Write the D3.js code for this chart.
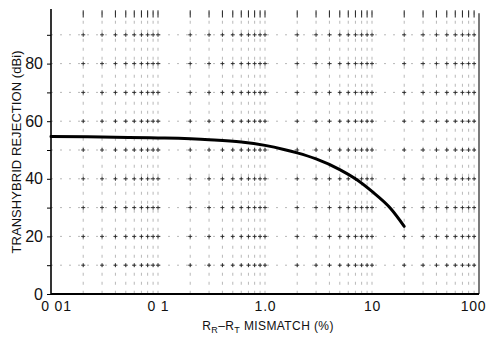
<!DOCTYPE html>
<html>
<head>
<meta charset="utf-8">
<script src="https://cdn.jsdelivr.net/npm/d3@7"></script>
<style>
  body { margin: 0; background: #fff; }
  svg { display: block; }
  .axis path, .axis line { stroke: #000; }
  .axis text, .title { font-family: "Liberation Sans", Arial, sans-serif; fill: #111; }
</style>
</head>
<body>
<div id="chart"></div>
<script>
// curve: mismatch (%) -> rejection (dB)
const mismatch = [0.01, 0.03, 0.1, 0.3, 0.6, 1.0, 1.5, 2.0, 3.0, 5.0, 7.0, 10, 15, 20];
const rejection = [54.7, 54.5, 54.2, 53.6, 52.8, 51.6, 50.2, 49.0, 46.9, 43.2, 40.0, 35.6, 29.6, 23.5];

const xTicks = [0.01, 0.1, 1, 10, 100];
const xTickLabels = ['0 01', '0 1', '1.0', '10', '100'];
const yTicks = [0, 20, 40, 60, 80];
const yGrid = [10, 20, 30, 40, 50, 60, 70, 80, 90];

const width = 491, height = 341;
const margin = {left: 51, right: 12, top: 6, bottom: 47};

const svg = d3.select('#chart').append('svg')
    .attr('width', width)
    .attr('height', height);

const x = d3.scaleLog().domain([0.01, 100]).range([margin.left, width - margin.right]);
const y = d3.scaleLinear().domain([0, 100]).range([height - margin.bottom, margin.top]);

// log grid lines 1..9 per decade
const xGrid = [];
[0.01, 0.1, 1, 10].forEach(d => {
    for (let k = 1; k <= 9; k++) xGrid.push(d * k);
});
const inner = xGrid.filter(d => d > 0.01 && d < 100);

const grid = svg.append('g').attr('class', 'grid');

grid.selectAll('line.v')
    .data(inner)
    .enter().append('line')
    .attr('class', 'v')
    .attr('x1', d => x(d)).attr('x2', d => x(d))
    .attr('y1', y(98)).attr('y2', y(0))
    .attr('stroke', '#999')
    .attr('stroke-width', 0.7)
    .attr('stroke-dasharray', '3,6');

grid.selectAll('line.h')
    .data(yGrid)
    .enter().append('line')
    .attr('class', 'h')
    .attr('x1', x(0.01)).attr('x2', x(100))
    .attr('y1', d => y(d)).attr('y2', d => y(d))
    .attr('stroke', '#999')
    .attr('stroke-width', 0.7)
    .attr('stroke-dasharray', '2,7');

// little crosses where the grid lines meet
const crossings = [];
inner.forEach(a => yGrid.forEach(b => crossings.push([a, b])));

grid.selectAll('path.cross')
    .data(crossings)
    .enter().append('path')
    .attr('class', 'cross')
    .attr('d', d => `M${x(d[0]) - 2},${y(d[1])}h4M${x(d[0])},${y(d[1]) - 2}v4`)
    .attr('stroke', '#222')
    .attr('stroke-width', 0.9);

// top ticks of the verticals
grid.selectAll('line.top')
    .data(inner)
    .enter().append('line')
    .attr('class', 'top')
    .attr('x1', d => x(d)).attr('x2', d => x(d))
    .attr('y1', y(98.5)).attr('y2', y(96))
    .attr('stroke', '#222')
    .attr('stroke-width', 1);

// right border near 100
svg.append('line')
    .attr('x1', x(100)).attr('x2', x(100))
    .attr('y1', y(97.5)).attr('y2', y(0))
    .attr('stroke', '#222')
    .attr('stroke-width', 1.2);

// axes
const yAxis = svg.append('g')
    .attr('class', 'axis')
    .attr('transform', `translate(${margin.left},0)`)
    .call(d3.axisLeft(y).tickValues(yGrid.concat([0])).tickSize(4)
        .tickFormat(d => yTicks.includes(d) ? d : ''));
yAxis.select('.domain')
    .attr('d', `M0,${y(99)}V${y(0)}`)
    .attr('stroke-width', 1.6);
yAxis.selectAll('text').attr('font-size', 16).attr('dx', '-1');

const xAxis = svg.append('g')
    .attr('class', 'axis')
    .attr('transform', `translate(0,${y(0)})`)
    .call(d3.axisBottom(x).tickValues(xTicks).tickSize(0)
        .tickFormat((d, i) => xTickLabels[i]));
xAxis.select('.domain')
    .attr('d', `M${x(0.01)},0H${x(100)}`)
    .attr('stroke-width', 2);
xAxis.selectAll('text').attr('font-size', 14).attr('dy', '1.0em').attr('letter-spacing', 0.8);
xAxis.selectAll('.tick text').filter((d, i) => i === 0).attr('dx', '5');
xAxis.selectAll('.tick text').filter((d, i) => i === 4).attr('dx', '-6');

// curve
const line = d3.line()
    .x((d, i) => x(mismatch[i]))
    .y(d => y(d))
    .curve(d3.curveMonotoneX);

svg.append('path')
    .datum(rejection)
    .attr('fill', 'none')
    .attr('stroke', '#000')
    .attr('stroke-width', 3)
    .attr('stroke-linecap', 'round')
    .attr('d', line);

// titles
const xt = svg.append('text')
    .attr('class', 'title')
    .attr('x', 268)
    .attr('y', 330)
    .attr('text-anchor', 'middle')
    .attr('font-size', 12)
    .attr('letter-spacing', 0.4);
xt.append('tspan').text('R');
xt.append('tspan').text('R').attr('font-size', 9).attr('dy', 3);
xt.append('tspan').text('–R').attr('dy', -3);
xt.append('tspan').text('T').attr('font-size', 9).attr('dy', 3);
xt.append('tspan').text(' MISMATCH (%)').attr('dy', -3);

svg.append('text')
    .attr('class', 'title')
    .attr('transform', `translate(21,${(y(0) + y(100)) / 2 + 2}) rotate(-90)`)
    .attr('text-anchor', 'middle')
    .attr('font-size', 13)
    .attr('textLength', 203)
    .attr('lengthAdjust', 'spacing')
    .text('TRANSHYBRID REJECTION (dBi)');
</script>
</body>
</html>
